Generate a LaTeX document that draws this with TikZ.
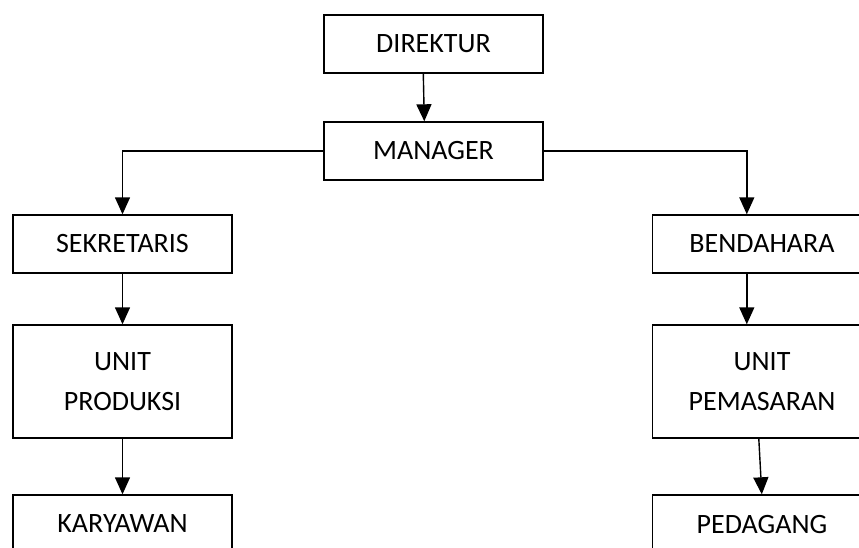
\documentclass[tikz,border=0pt]{standalone}
\usepackage{fontspec}
\setmainfont{Carlito}
\usetikzlibrary{arrows.meta}
\begin{document}
\begin{tikzpicture}[x=1pt,y=-1pt,
  orgbox/.style={draw, line width=1.4pt, minimum width=219pt, minimum height=58pt,
    inner sep=0pt, align=center, font=\fontsize{28}{40}\selectfont},
  tallbox/.style={orgbox, minimum height=113pt},
  link/.style={line width=1.4pt, -{Triangle[width=15pt,length=17pt]}}]
  \clip (0,0) rectangle (859,547);
  \fill[white] (0,0) rectangle (859,547);

  % top of the chart
  \node[orgbox] (dir) at (433.5,44) {DIREKTUR};
  \node[orgbox] (man) at (433.5,151) {MANAGER};

  % left branch
  \node[orgbox]  (sek)  at (122.5,244)   {SEKRETARIS};
  \node[tallbox] (prod) at (122.5,381.5) {UNIT\\PRODUKSI};
  \node[orgbox]  (kar)  at (122.5,524)   {KARYAWAN};

  % right branch
  \node[orgbox]  (ben) at (762,244)   {BENDAHARA};
  \node[tallbox] (pem) at (762,381.5) {UNIT\\PEMASARAN};
  \node[orgbox]  (ped) at (762,524)   {PEDAGANG};

  % connector anchor points
  \coordinate (dirout) at ([xshift=100pt]dir.south west);
  \coordinate (manin)  at ([xshift=101pt]man.north west);
  \coordinate (benin)  at ([xshift=95pt]ben.north west);
  \coordinate (benout) at ([xshift=95pt]ben.south west);
  \coordinate (pemin)  at ([xshift=95pt]pem.north west);
  \coordinate (pemout) at ([xshift=107pt]pem.south west);
  \coordinate (pedin)  at ([xshift=110pt]ped.north west);

  % connectors
  \draw[link] (dirout) -- (manin);
  \draw[link] (man.west) -| (sek.north);
  \draw[link] (man.east) -| (benin);
  \draw[link] (sek.south) -- (prod.north);
  \draw[link] (prod.south) -- (kar.north);
  \draw[link] (benout) -- (pemin);
  \draw[link] (pemout) -- (pedin);
\end{tikzpicture}
\end{document}
